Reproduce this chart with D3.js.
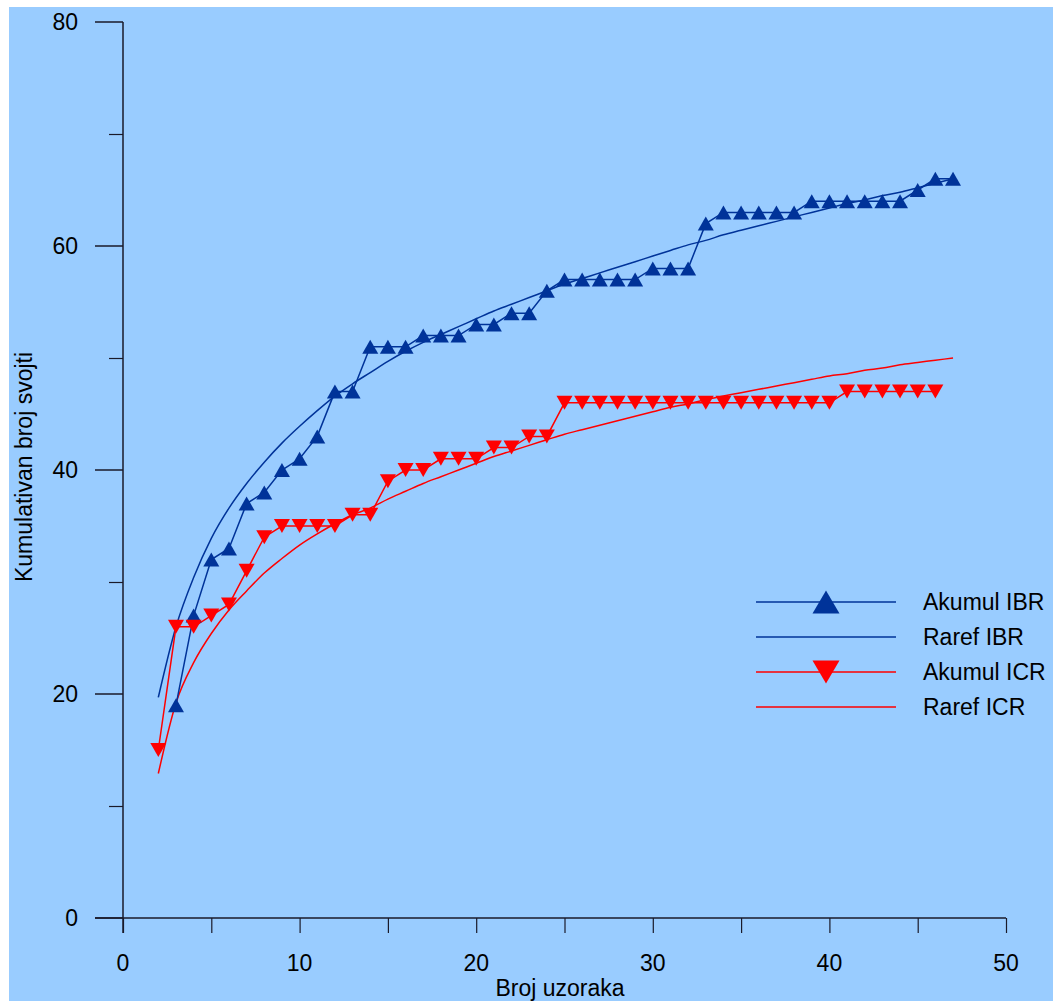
<!DOCTYPE html>
<html>
<head>
<meta charset="utf-8">
<script src="https://cdn.jsdelivr.net/npm/d3@7"></script>
<style>
  body { margin: 0; background: #fff; }
  text { font-family: "Liberation Sans", Arial, sans-serif; fill: #000; }
</style>
</head>
<body>
<script>
// sample counts
var xIBR = d3.range(3, 48);
var xICR = d3.range(2, 47);
var xRaref = d3.range(2, 48);

// cumulative number of taxa
var akumulIBR = [19, 27, 32, 33, 37, 38, 40, 41, 43, 47, 47, 51, 51, 51, 52, 52, 52, 53, 53, 54, 54, 56,
  57, 57, 57, 57, 57, 58, 58, 58, 62, 63, 63, 63, 63, 63, 64, 64, 64, 64, 64, 64, 65, 66, 66];
var akumulICR = [15, 26, 26, 27, 28, 31, 34, 35, 35, 35, 35, 36, 36, 39, 40, 40, 41, 41, 41, 42, 42, 43, 43,
  46, 46, 46, 46, 46, 46, 46, 46, 46, 46, 46, 46, 46, 46, 46, 46, 47, 47, 47, 47, 47, 47];

// rarefaction curves
var rarefIBR = [19.7, 26, 30.4, 33.9, 36.6, 38.8, 40.7, 42.4, 43.9, 45.3, 46.6, 47.7, 48.7, 49.7, 50.6, 51.4,
  52.1, 52.8, 53.5, 54.2, 54.8, 55.4, 56, 56.6, 57.1, 57.6, 58.1, 58.6, 59.1, 59.6, 60.1, 60.5, 61, 61.4,
  61.8, 62.2, 62.6, 63, 63.4, 63.8, 64.1, 64.5, 64.8, 65.2, 65.6, 66];
var rarefICR = [12.9, 19.2, 22.8, 25.4, 27.5, 29.2, 30.8, 32.1, 33.3, 34.3, 35.2, 36, 36.6, 37.4, 38.1, 38.8,
  39.4, 40, 40.6, 41.2, 41.7, 42.2, 42.7, 43.2, 43.6, 44, 44.4, 44.8, 45.2, 45.6, 45.9, 46.3, 46.6, 46.9,
  47.2, 47.5, 47.8, 48.1, 48.4, 48.6, 48.9, 49.1, 49.4, 49.6, 49.8, 50];

var xTicks = [0, 10, 20, 30, 40, 50];
var yTicks = [0, 20, 40, 60, 80];
var legendNames = ["Akumul IBR", "Raref IBR", "Akumul ICR", "Raref ICR"];

var w = 1053;
var h = 1001;
var blue = "#003399";
var red = "#ff0000";
var bgColor = "#99ccff";
var fontSize = 23;

var svg = d3.select("body")
            .append("svg")
            .attr("width", w)
            .attr("height", h);

svg.append("rect")
  .attr("x", 9)
  .attr("y", 7)
  .attr("width", w - 9)
  .attr("height", h - 7)
  .attr("fill", bgColor);

var x = d3.scaleLinear().domain([0, 50]).range([123, 1006]);
var y = d3.scaleLinear().domain([0, 80]).range([918, 22]);

// axes
var axisColor = "#1a1a2a";
var gx = svg.append("g").attr("transform", "translate(0," + y(0) + ")");
gx.call(d3.axisBottom(x).tickValues(d3.range(0, 51, 5)).tickSize(15).tickFormat(""));
gx.select(".domain").remove();
gx.selectAll("line").attr("stroke", axisColor).attr("stroke-width", 1.2);
gx.append("line")
  .attr("x1", 95).attr("x2", x(50))
  .attr("stroke", axisColor).attr("stroke-width", 1.5);

var gy = svg.append("g").attr("transform", "translate(" + x(0) + ",0)");
gy.call(d3.axisLeft(y).tickValues([10, 30, 50, 70]).tickSize(14).tickFormat(""));
gy.select(".domain").remove();
gy.selectAll("line").attr("stroke", axisColor).attr("stroke-width", 1.2);
gy.selectAll(".major")
  .data(yTicks)
  .enter()
  .append("line")
  .attr("x1", -28).attr("x2", 0)
  .attr("y1", function(d) { return y(d); })
  .attr("y2", function(d) { return y(d); })
  .attr("stroke", axisColor).attr("stroke-width", 1.5);
gy.append("line")
  .attr("y1", y(80)).attr("y2", y(0) + 15)
  .attr("stroke", axisColor).attr("stroke-width", 1.5);

svg.selectAll(".xlab")
  .data(xTicks)
  .enter()
  .append("text")
  .attr("class", "xlab")
  .attr("x", function(d) { return x(d); })
  .attr("y", 971)
  .attr("text-anchor", "middle")
  .style("font-size", fontSize + "px")
  .text(function(d) { return d; });

svg.selectAll(".ylab")
  .data(yTicks)
  .enter()
  .append("text")
  .attr("class", "ylab")
  .attr("x", 78)
  .attr("y", function(d) { return y(d) + 8; })
  .attr("text-anchor", "end")
  .style("font-size", fontSize + "px")
  .text(function(d) { return d; });

svg.append("text")
  .attr("x", 560)
  .attr("y", 996)
  .attr("text-anchor", "middle")
  .style("font-size", fontSize + "px")
  .text("Broj uzoraka");

svg.append("text")
  .attr("transform", "translate(32,467) rotate(-90)")
  .attr("text-anchor", "middle")
  .style("font-size", fontSize + "px")
  .text("Kumulativan broj svojti");

// series
function pts(xs, ys) {
  return xs.map(function(v, i) { return [v, ys[i]]; });
}
var line = d3.line()
  .x(function(d) { return x(d[0]); })
  .y(function(d) { return y(d[1]); });
var smooth = d3.line()
  .x(function(d) { return x(d[0]); })
  .y(function(d) { return y(d[1]); })
  .curve(d3.curveMonotoneX);

function tri(up, tw, th) {
  var a = tw / 2, b = th / 2;
  return up ? "M0," + (-b) + "L" + a + "," + b + "L" + (-a) + "," + b + "Z"
            : "M0," + b + "L" + a + "," + (-b) + "L" + (-a) + "," + (-b) + "Z";
}

svg.append("path")
  .attr("d", smooth(pts(xRaref, rarefIBR)))
  .attr("fill", "none").attr("stroke", blue).attr("stroke-width", 1.5);
svg.append("path")
  .attr("d", smooth(pts(xRaref, rarefICR)))
  .attr("fill", "none").attr("stroke", red).attr("stroke-width", 1.5);

svg.append("path")
  .attr("d", line(pts(xIBR, akumulIBR)))
  .attr("fill", "none").attr("stroke", blue).attr("stroke-width", 1.5);
svg.append("path")
  .attr("d", line(pts(xICR, akumulICR)))
  .attr("fill", "none").attr("stroke", red).attr("stroke-width", 1.5);

svg.selectAll(".mIBR")
  .data(pts(xIBR, akumulIBR))
  .enter()
  .append("path")
  .attr("class", "mIBR")
  .attr("d", tri(true, 16, 14))
  .attr("transform", function(d) { return "translate(" + x(d[0]) + "," + y(d[1]) + ")"; })
  .attr("fill", blue);

svg.selectAll(".mICR")
  .data(pts(xICR, akumulICR))
  .enter()
  .append("path")
  .attr("class", "mICR")
  .attr("d", tri(false, 16, 14))
  .attr("transform", function(d) { return "translate(" + x(d[0]) + "," + y(d[1]) + ")"; })
  .attr("fill", red);

// legend
var legColors = [blue, blue, red, red];
var legMarker = ["up", null, "down", null];
var lg = svg.selectAll(".leg")
  .data(legendNames)
  .enter()
  .append("g")
  .attr("class", "leg")
  .attr("transform", function(d, i) { return "translate(0," + (602 + i * 35) + ")"; });
lg.append("line")
  .attr("x1", 756).attr("x2", 896)
  .attr("stroke", function(d, i) { return legColors[i]; })
  .attr("stroke-width", 1.5);
lg.filter(function(d, i) { return legMarker[i]; })
  .append("path")
  .attr("d", function(d) { return tri(legMarker[legendNames.indexOf(d)] === "up", 27, 23); })
  .attr("transform", "translate(826,0)")
  .attr("fill", function(d) { return legColors[legendNames.indexOf(d)]; });
lg.append("text")
  .attr("x", 923)
  .attr("y", 8)
  .style("font-size", fontSize + "px")
  .text(function(d) { return d; });
</script>
</body>
</html>
